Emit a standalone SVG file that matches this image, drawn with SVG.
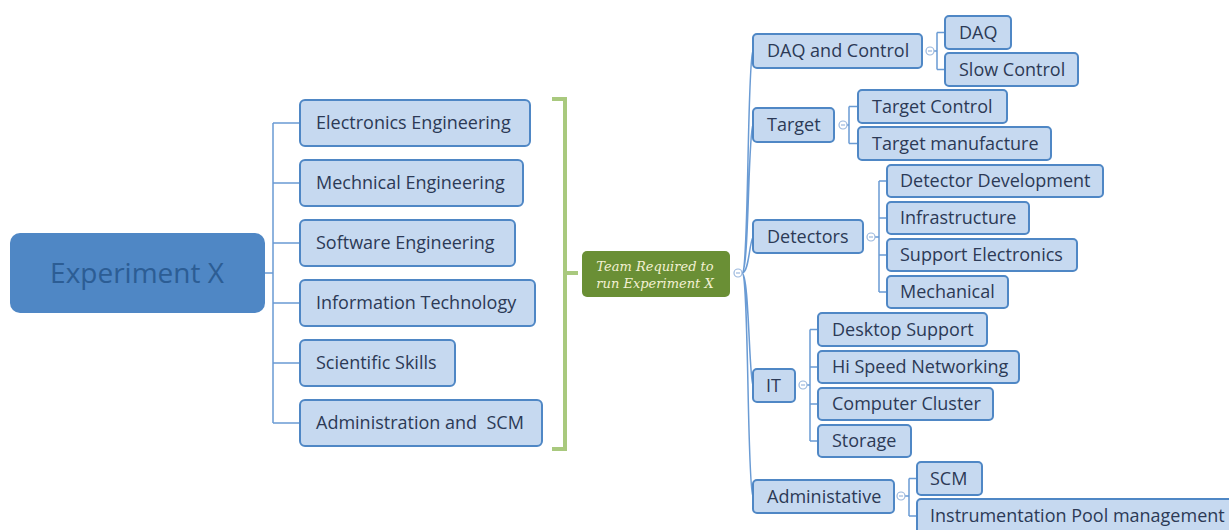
<svg xmlns="http://www.w3.org/2000/svg" width="1229" height="530" viewBox="0 0 1229 530">
<style>
.box{fill:#c6d9f0;stroke:#4f87c5;stroke-width:2}
.t{font-family:"Open Sans","Liberation Sans",sans-serif;font-size:18px;fill:#2c3a56}
.ln{fill:none;stroke:#6a9bd4;stroke-width:1.5}
.col{fill:#fff;stroke:#9bb8de;stroke-width:1.2}
.colm{stroke:#9bb8de;stroke-width:1.2}
.team{font-family:"DejaVu Serif","Liberation Serif",serif;font-style:italic;font-size:13px;fill:#f3f1d3}
</style>
<rect width="1229" height="530" fill="#fff"/>
<g id="connectors">
<path class="ln" d="M265,273 H273 M273,123 V423 M273,123 H300 M273,183 H300 M273,243 H300 M273,303 H300 M273,363 H300 M273,423 H300"/>
<path d="M552,99 H565 V449 H552 M565,273 H578" fill="none" stroke="#a9c97e" stroke-width="4"/>
<path class="ln" d="M742,273 C749,273 747,60 753,51 M742,273 C749,273 748,133 753,125 M742,273 C749,273 749,244 753,237 M742,273 C749,273 749,378 753,385 M742,273 C749,273 747,488 753,496"/>
<path class="ln" d="M934,51 H937 M937,32.5 V69.5 M937,32.5 H945 M937,69.5 H945"/>
<path class="ln" d="M847,125 H849 M849,106.5 V143.5 M849,106.5 H858 M849,143.5 H858"/>
<path class="ln" d="M875,237 H879 M879,181 V292 M879,181 H887 M879,218 H887 M879,255 H887 M879,292 H887"/>
<path class="ln" d="M807,385 H810 M810,329.5 V441 M810,329.5 H818 M810,367 H818 M810,404 H818 M810,441 H818"/>
<path class="ln" d="M905,496 H909 M909,478.5 V516 M909,478.5 H917 M909,516 H917"/>
<g id="collapse-markers">
<circle class="col" cx="738" cy="273" r="4"/><path class="colm" d="M736,273 H740"/>
<circle class="col" cx="930" cy="51" r="4"/><path class="colm" d="M928,51 H932"/>
<circle class="col" cx="843" cy="125" r="4"/><path class="colm" d="M841,125 H845"/>
<circle class="col" cx="871" cy="237" r="4"/><path class="colm" d="M869,237 H873"/>
<circle class="col" cx="803" cy="385" r="4"/><path class="colm" d="M801,385 H805"/>
<circle class="col" cx="901" cy="496" r="4"/><path class="colm" d="M899,496 H903"/>
</g>
</g>
<g id="experiment-x"><rect x="10" y="233" width="255" height="80" rx="10" fill="#4f87c5"/><text x="137" y="283" text-anchor="middle" font-family="'Open Sans','Liberation Sans',sans-serif" font-size="28" fill="#2c5d94">Experiment X</text></g>
<g id="electronics"><rect class="box" x="300" y="100" width="230" height="46" rx="5"/><text class="t" x="316" y="129">Electronics Engineering</text></g>
<g id="mechnical"><rect class="box" x="300" y="160" width="223" height="46" rx="5"/><text class="t" x="316" y="189">Mechnical Engineering</text></g>
<g id="software"><rect class="box" x="300" y="220" width="215" height="46" rx="5"/><text class="t" x="316" y="249">Software Engineering</text></g>
<g id="infotech"><rect class="box" x="300" y="280" width="235" height="46" rx="5"/><text class="t" x="316" y="309">Information Technology</text></g>
<g id="scientific"><rect class="box" x="300" y="340" width="155" height="46" rx="5"/><text class="t" x="316" y="369">Scientific Skills</text></g>
<g id="admin-scm"><rect class="box" x="300" y="400" width="242" height="46" rx="5"/><text class="t" x="316" y="429" xml:space="preserve">Administration and  SCM</text></g>
<g id="team"><rect x="582" y="251" width="148" height="46" rx="5" fill="#6a8f35"/><text class="team" x="655" y="271" text-anchor="middle">Team Required to</text><text class="team" x="655" y="288" text-anchor="middle">run Experiment X</text></g>
<g id="daq-control"><rect class="box" x="753" y="34" width="169" height="34" rx="4"/><text class="t" x="767" y="57">DAQ and Control</text></g>
<g id="daq"><rect class="box" x="945" y="16" width="66" height="33" rx="4"/><text class="t" x="959" y="39">DAQ</text></g>
<g id="slow-control"><rect class="box" x="945" y="53" width="133" height="33" rx="4"/><text class="t" x="959" y="76">Slow Control</text></g>
<g id="target"><rect class="box" x="753" y="108" width="81" height="34" rx="4"/><text class="t" x="767" y="131">Target</text></g>
<g id="target-control"><rect class="box" x="858" y="90" width="149" height="33" rx="4"/><text class="t" x="872" y="113">Target Control</text></g>
<g id="target-manufacture"><rect class="box" x="858" y="127" width="193" height="33" rx="4"/><text class="t" x="872" y="150">Target manufacture</text></g>
<g id="detectors"><rect class="box" x="753" y="220" width="110" height="33" rx="4"/><text class="t" x="767" y="243">Detectors</text></g>
<g id="detector-dev"><rect class="box" x="887" y="165" width="216" height="32" rx="4"/><text class="t" x="900" y="187">Detector Development</text></g>
<g id="infrastructure"><rect class="box" x="887" y="202" width="142" height="32" rx="4"/><text class="t" x="900" y="224">Infrastructure</text></g>
<g id="support-electronics"><rect class="box" x="887" y="239" width="190" height="32" rx="4"/><text class="t" x="900" y="261">Support Electronics</text></g>
<g id="mechanical"><rect class="box" x="887" y="276" width="121" height="32" rx="4"/><text class="t" x="900" y="298">Mechanical</text></g>
<g id="it"><rect class="box" x="753" y="369" width="42" height="33" rx="4"/><text class="t" x="766" y="392">IT</text></g>
<g id="desktop-support"><rect class="box" x="818" y="313" width="169" height="33" rx="4"/><text class="t" x="832" y="336">Desktop Support</text></g>
<g id="hi-speed"><rect class="box" x="818" y="351" width="201" height="32" rx="4"/><text class="t" x="832" y="373">Hi Speed Networking</text></g>
<g id="computer-cluster"><rect class="box" x="818" y="388" width="175" height="32" rx="4"/><text class="t" x="832" y="410">Computer Cluster</text></g>
<g id="storage"><rect class="box" x="818" y="425" width="93" height="32" rx="4"/><text class="t" x="832" y="447">Storage</text></g>
<g id="administative"><rect class="box" x="753" y="480" width="141" height="33" rx="4"/><text class="t" x="767" y="503">Administative</text></g>
<g id="scm"><rect class="box" x="917" y="462" width="65" height="33" rx="4"/><text class="t" x="930" y="485">SCM</text></g>
<g id="instrumentation"><rect class="box" x="917" y="499" width="316" height="35" rx="4"/><text class="t" x="930" y="522">Instrumentation Pool management</text></g>
</svg>
